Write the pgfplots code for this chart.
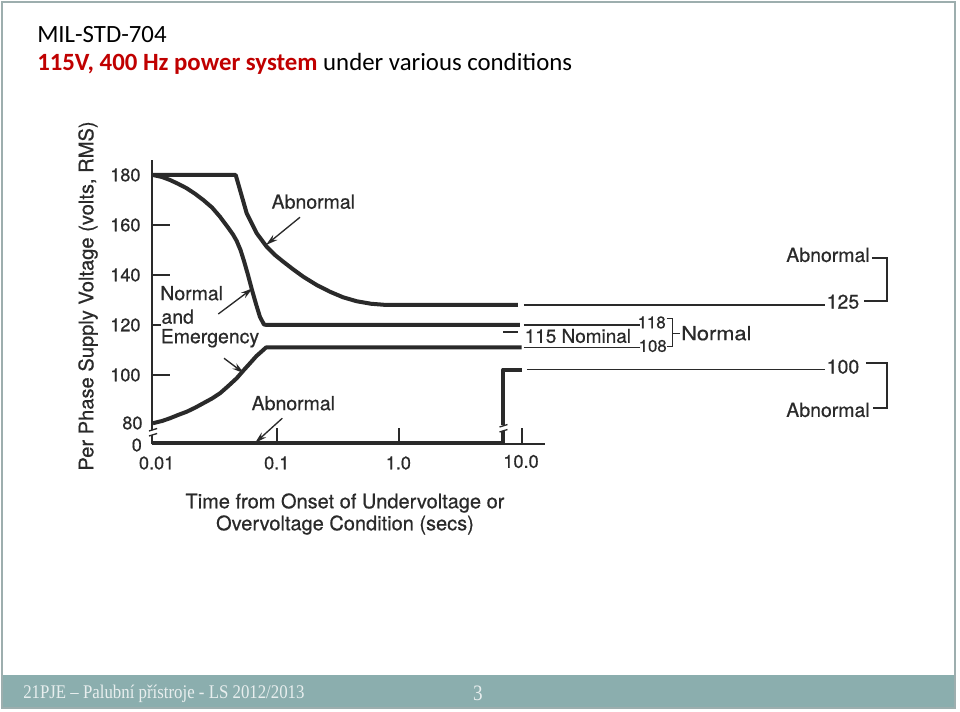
\documentclass[border=0pt]{standalone}
\usepackage{pgfplots}
\pgfplotsset{compat=1.18}
\usepackage{fontspec}
\usetikzlibrary{arrows.meta}
\newfontfamily\fhv[FakeBold=0.5]{TeX Gyre Heros}
\newfontfamily\fhvw[FakeBold=0.5,FakeStretch=1.12]{TeX Gyre Heros}
\newfontfamily\fcalib{Carlito}
\newfontfamily\ftms[FakeStretch=0.87]{Liberation Serif}
\definecolor{ink}{HTML}{2A2A2A}
\definecolor{barc}{HTML}{8BAEAE}
\definecolor{titred}{HTML}{C00000}
\definecolor{framec}{HTML}{9DAEAE}
\definecolor{foottext}{HTML}{E8EEEE}
\begin{document}
\begin{tikzpicture}
\useasboundingbox (0,0) rectangle (720pt,-534pt);
\begin{scope}[x=0.75pt,y=-0.75pt]
\fill[white] (0,0) rectangle (960,712);
\fill[barc] (2,675) rectangle (955,708);
\draw[framec, line width=0.9pt] (2,2) rectangle (955,708);
\node[anchor=base west, inner sep=0, font=\fcalib\fontsize{18.6}{21}\selectfont] at (37,42.5) {MIL-STD-704};
\node[anchor=base west, inner sep=0, font=\fcalib\fontsize{18.6}{21}\selectfont] at (37,71) {\textcolor{titred}{\bfseries 115V, 400 Hz power system} under various conditions};
\node[anchor=base west, inner sep=0, text=foottext, font=\ftms\fontsize{14.5}{16}\selectfont] at (23,698.3) {21PJE – Palubní přístroje - LS 2012/2013};
\node[anchor=base, inner sep=0, text=foottext, font=\ftms\fontsize{16.5}{18}\selectfont] at (478,700) {3};
\end{scope}
\begin{axis}[
  at={(75pt,-352.5pt)}, anchor=south west,
  scale only axis, width=600pt, height=266.25pt,
  xmode=log, xmin=0.00363, xmax=12023, ymin=62, ymax=204,
  axis lines=none, clip=false,
  every axis plot/.append style={ink, line join=round, line cap=butt, mark=none},
]
% axes
\addplot[line width=1.5pt] coordinates {(0.0097,72.3) (0.0097,186)};
\addplot[line width=1.5pt] coordinates {(0.0097,72.5) (15.5,72.5)};
% x ticks
\addplot[line width=1.5pt] coordinates {(0.1,72.5) (0.1,78.8)};
\addplot[line width=1.5pt] coordinates {(1,72.5) (1,78.8)};
\addplot[line width=1.5pt] coordinates {(10,72.5) (10,78.8)};
% y ticks
\addplot[line width=1.5pt] coordinates {(0.0097,160) (0.0135,160)};
\addplot[line width=1.5pt] coordinates {(0.0097,140) (0.0135,140)};
\addplot[line width=1.5pt] coordinates {(0.0097,120) (0.0113,120)};
\addplot[line width=1.5pt] coordinates {(0.0097,100) (0.0135,100)};
% upper abnormal limit
\addplot[line width=3pt] coordinates {(0.0098,180) (0.04634,180) (0.05024,174) (0.05693,164.7) (0.06871,156.7) (0.08289,151.3) (0.0968,148) (0.1132,145.3) (0.1358,142.3) (0.1648,139.3) (0.2118,136) (0.2719,133.3) (0.3469,131.1) (0.4487,129.5) (0.587,128.5) (0.788,128) (9.26,128)};
% upper normal/emergency limit
\addplot[line width=3pt] coordinates {(0.0098,180) (0.01162,179.2) (0.0135,178) (0.01569,176.5) (0.01847,174.7) (0.02159,172.5) (0.02522,170) (0.0297,167) (0.03451,163.3) (0.0401,159) (0.04404,156.2) (0.04721,153.6) (0.0507,150) (0.05413,145.6) (0.05837,140) (0.06292,134) (0.06782,128.4) (0.07309,123.2) (0.07879,120.2) (0.08336,120) (9.61,120)};
% lower normal/emergency limit
\addplot[line width=3pt] coordinates {(0.0098,80.7) (0.01162,81.6) (0.0135,82.7) (0.01569,84) (0.01847,85.3) (0.02159,86.9) (0.02522,88.7) (0.0297,90.6) (0.03451,92.7) (0.0401,95.5) (0.04721,98.7) (0.05313,101.6) (0.06059,104.7) (0.06845,107.6) (0.0777,110) (0.0818,111) (9.92,111)};
% lower abnormal limit
\addplot[line width=3pt] coordinates {(0.0098,73) (7.03,73) (7.03,102.2) (9.92,102.2)};
% right-hand steady-state limits
\addplot[line width=1.3pt] coordinates {(10.36,128) (2943,128)};
\addplot[line width=1.3pt] coordinates {(10.36,120) (91.4,120)};
\addplot[line width=1.3pt] coordinates {(6.99,117.3) (9.26,117.3)};
\addplot[line width=1.3pt] coordinates {(10.36,111) (91.4,111)};
\addplot[line width=1.3pt] coordinates {(10.96,102.2) (2943,102.2)};
% axis breaks
\draw[white, line width=2.6pt] (axis cs:0.0097,76) -- (axis cs:0.0097,78.2);
\draw[ink, line width=1pt] (axis cs:0.0091,75.6) -- (axis cs:0.0106,76.6);
\draw[ink, line width=1pt] (axis cs:0.0091,77.6) -- (axis cs:0.0106,78.6);
\draw[white, line width=3.6pt] (axis cs:7.03,77.6) -- (axis cs:7.03,80);
\draw[ink, line width=1pt] (axis cs:6.55,77.2) -- (axis cs:7.6,78.2);
\draw[ink, line width=1pt] (axis cs:6.55,79.2) -- (axis cs:7.6,80.2);
% brackets
\draw[ink, line width=1.1pt] (axis cs:7107,146.8) -- (axis cs:9418,146.8) -- (axis cs:9418,129.6) -- (axis cs:6115,129.6);
\draw[ink, line width=1.1pt] (axis cs:6348,104.8) -- (axis cs:9418,104.8) -- (axis cs:9418,86.8) -- (axis cs:7244,86.8);
\draw[ink, line width=1.1pt] (axis cs:150.8,122.7) -- (axis cs:168.8,122.7) -- (axis cs:168.8,111.3) -- (axis cs:150.8,111.3);
\draw[ink, line width=1.1pt] (axis cs:168.8,116.7) -- (axis cs:193.6,116.7);
% arrows
\draw[ink, line width=1pt, -{Stealth[length=9pt,width=5pt]}] (axis cs:0.1549,163.1) -- (axis cs:0.0818,152);
\draw[ink, line width=1pt, -{Stealth[length=9pt,width=5pt]}] (axis cs:0.03342,124.4) -- (axis cs:0.06374,134.7);
\draw[ink, line width=1pt, -{Stealth[length=9pt,width=5pt]}] (axis cs:0.0372,106.7) -- (axis cs:0.05414,100.7);
\draw[ink, line width=1pt, -{Stealth[length=9pt,width=5pt]}] (axis cs:0.1111,82.7) -- (axis cs:0.06655,72.8);
% tick labels
\begin{scope}[every node/.style={inner sep=0, text=ink, font=\fhv\fontsize{13.6}{15}\selectfont}]
\node[anchor=east] at (axis cs:0.0078,180) {180};
\node[anchor=east] at (axis cs:0.0078,160) {160};
\node[anchor=east] at (axis cs:0.0078,140) {140};
\node[anchor=east] at (axis cs:0.0078,120) {120};
\node[anchor=east] at (axis cs:0.0078,100) {100};
\node[anchor=east] at (axis cs:0.0081,80.8) {80};
\node[anchor=east] at (axis cs:0.0080,72) {0};
\node at (axis cs:0.0105,64.8) {0.01};
\node at (axis cs:0.1,64.8) {0.1};
\node at (axis cs:0.98,64.8) {1.0};
\node at (axis cs:9.8,65.4) {10.0};
\node[font=\fhv\fontsize{12.6}{14}\selectfont] at (axis cs:113.8,121) {118};
\node[font=\fhv\fontsize{12.6}{14}\selectfont] at (axis cs:116,111.6) {108};
\end{scope}
% text labels
\begin{scope}[every node/.style={inner sep=0, text=ink, font=\fhv\fontsize{14.6}{16}\selectfont}]
\node at (axis cs:0.1988,169.3) {Abnormal};
\node at (axis cs:0.02028,132.7) {Normal};
\node at (axis cs:0.0156,123.3) {and};
\node at (axis cs:0.0286,114.7) {Emergency};
\node at (axis cs:0.1366,88.7) {Abnormal};
\node[font=\fhv\fontsize{14.2}{16}\selectfont] at (axis cs:28.5,115.6) {115 Nominal};
\node[anchor=west, font=\fhvw\fontsize{14.6}{16}\selectfont] at (axis cs:197,116.7) {Normal};
\node at (axis cs:3112,148) {Abnormal};
\node at (axis cs:3112,86) {Abnormal};
\node at (axis cs:4124,129.3) {125};
\node at (axis cs:4124,103.3) {100};
\node[rotate=90, font=\fhv\fontsize{15.1}{17}\selectfont] at (axis cs:0.0029,131.6) {Per Phase Supply Voltage (volts, RMS)};
\node[align=center, font=\fhv\fontsize{15}{16.5}\selectfont] at (axis cs:0.3602,44.4) {Time from Onset of Undervoltage or\\Overvoltage Condition (secs)};
\end{scope}
\end{axis}
\end{tikzpicture}
\end{document}
